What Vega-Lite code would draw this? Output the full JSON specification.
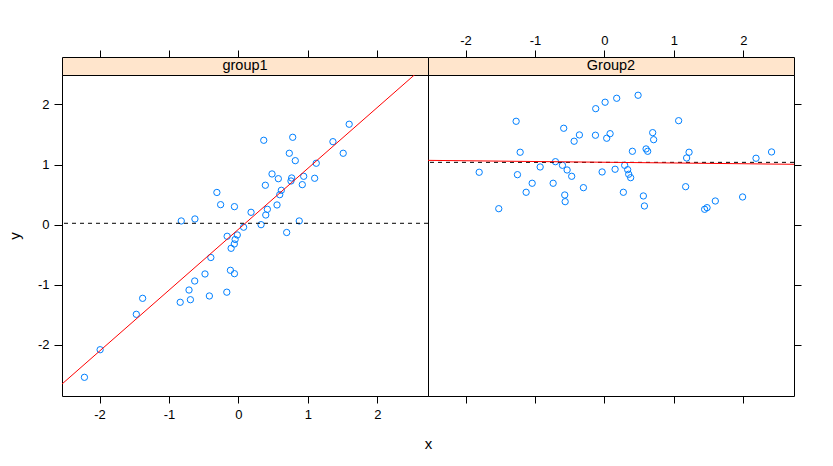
{
  "$schema": "https://vega.github.io/schema/vega-lite/v6.json",
  "background": "white",
  "padding": {"left": 6, "top": 33, "right": 5, "bottom": 5},
  "datasets": {
    "strips": [{"group": "group1"}, {"group": "Group2"}],
    "pts": [
      {"group":"group1","x":0.365,"y":1.404},{"group":"group1","x":0.782,"y":1.454},{"group":"group1","x":1.595,"y":1.671},{"group":"group1","x":1.361,"y":1.381},{"group":"group1","x":1.509,"y":1.188},
      {"group":"group1","x":0.733,"y":1.188},{"group":"group1","x":0.819,"y":1.065},{"group":"group1","x":1.121,"y":1.022},{"group":"group1","x":0.484,"y":0.844},{"group":"group1","x":0.575,"y":0.765},
      {"group":"group1","x":0.767,"y":0.777},{"group":"group1","x":0.757,"y":0.727},{"group":"group1","x":0.940,"y":0.805},{"group":"group1","x":1.098,"y":0.772},{"group":"group1","x":0.388,"y":0.656},
      {"group":"group1","x":0.920,"y":0.666},{"group":"group1","x":0.618,"y":0.572},{"group":"group1","x":0.595,"y":0.499},{"group":"group1","x":0.556,"y":0.328},{"group":"group1","x":0.417,"y":0.256},
      {"group":"group1","x":0.182,"y":0.206},{"group":"group1","x":0.394,"y":0.161},{"group":"group1","x":0.876,"y":0.062},{"group":"group1","x":0.326,"y":0.000},{"group":"group1","x":0.075,"y":-0.042},
      {"group":"group1","x":0.695,"y":-0.130},{"group":"group1","x":-0.310,"y":0.536},{"group":"group1","x":-0.256,"y":0.333},{"group":"group1","x":-0.057,"y":0.300},{"group":"group1","x":-0.823,"y":0.062},
      {"group":"group1","x":-0.626,"y":0.095},{"group":"group1","x":-0.162,"y":-0.193},{"group":"group1","x":-0.016,"y":-0.171},{"group":"group1","x":-0.047,"y":-0.246},{"group":"group1","x":-0.059,"y":-0.321},
      {"group":"group1","x":-0.105,"y":-0.393},{"group":"group1","x":-0.397,"y":-0.546},{"group":"group1","x":-0.481,"y":-0.820},{"group":"group1","x":-0.115,"y":-0.759},{"group":"group1","x":-0.057,"y":-0.815},
      {"group":"group1","x":-0.629,"y":-0.937},{"group":"group1","x":-0.711,"y":-1.087},{"group":"group1","x":-0.838,"y":-1.291},{"group":"group1","x":-0.691,"y":-1.248},{"group":"group1","x":-0.418,"y":-1.186},
      {"group":"group1","x":-0.167,"y":-1.123},{"group":"group1","x":-1.379,"y":-1.225},{"group":"group1","x":-1.470,"y":-1.491},{"group":"group1","x":-1.991,"y":-2.080},{"group":"group1","x":-2.217,"y":-2.539},
      {"group":"Group2","x":-1.271,"y":1.720},{"group":"Group2","x":-0.586,"y":1.604},{"group":"Group2","x":-0.125,"y":1.930},{"group":"Group2","x":0.010,"y":2.037},{"group":"Group2","x":0.177,"y":2.103},
      {"group":"Group2","x":-0.360,"y":1.493},{"group":"Group2","x":-0.436,"y":1.388},{"group":"Group2","x":-0.129,"y":1.488},{"group":"Group2","x":0.033,"y":1.438},{"group":"Group2","x":0.082,"y":1.514},
      {"group":"Group2","x":-1.213,"y":1.205},{"group":"Group2","x":-0.705,"y":1.048},{"group":"Group2","x":-0.604,"y":0.988},{"group":"Group2","x":-0.537,"y":0.910},{"group":"Group2","x":-0.471,"y":0.805},
      {"group":"Group2","x":-0.925,"y":0.960},{"group":"Group2","x":-1.803,"y":0.872},{"group":"Group2","x":-1.252,"y":0.832},{"group":"Group2","x":-1.040,"y":0.689},{"group":"Group2","x":-0.738,"y":0.689},
      {"group":"Group2","x":-1.127,"y":0.539},{"group":"Group2","x":-0.571,"y":0.494},{"group":"Group2","x":-0.565,"y":0.383},{"group":"Group2","x":-0.302,"y":0.616},{"group":"Group2","x":-1.521,"y":0.266},
      {"group":"Group2","x":-0.033,"y":0.877},{"group":"Group2","x":0.154,"y":0.922},{"group":"Group2","x":0.485,"y":2.153},{"group":"Group2","x":1.069,"y":1.730},{"group":"Group2","x":0.695,"y":1.531},
      {"group":"Group2","x":0.709,"y":1.414},{"group":"Group2","x":0.403,"y":1.221},{"group":"Group2","x":0.600,"y":1.260},{"group":"Group2","x":0.623,"y":1.221},{"group":"Group2","x":1.219,"y":1.205},
      {"group":"Group2","x":1.184,"y":1.110},{"group":"Group2","x":2.183,"y":1.105},{"group":"Group2","x":2.407,"y":1.210},{"group":"Group2","x":0.292,"y":0.988},{"group":"Group2","x":0.335,"y":0.915},
      {"group":"Group2","x":0.350,"y":0.839},{"group":"Group2","x":0.378,"y":0.782},{"group":"Group2","x":1.170,"y":0.632},{"group":"Group2","x":0.273,"y":0.539},{"group":"Group2","x":0.561,"y":0.478},
      {"group":"Group2","x":0.576,"y":0.311},{"group":"Group2","x":1.990,"y":0.461},{"group":"Group2","x":1.597,"y":0.394},{"group":"Group2","x":1.478,"y":0.283},{"group":"Group2","x":1.443,"y":0.256}
    ]
  },
  "columns": 2,
  "spacing": 0,
  "bounds": "flush",
  "concat": [
    {
      "width": 366, "height": 18,
      "data": {"name": "strips"},
      "transform": [{"filter": "datum.group === 'group1'"}],
      "view": {"fill": "#ffe5cc", "stroke": "black"},
      "layer": [
        {"mark": {"type": "text", "fontSize": 14.5, "font": "Liberation Sans", "color": "black", "baseline": "middle", "align": "center"},
         "encoding": {"text": {"field": "group", "type": "nominal"}}},
        {"mark": {"type": "rule", "opacity": 0},
         "encoding": {"x": {"datum": 0, "type": "quantitative",
           "scale": {"domain": [-2.54, 2.73], "nice": false, "zero": false},
           "axis": {"orient": "top", "values": [-2, -1, 0, 1, 2], "labels": false, "title": null, "tickSize": 7}}}}
      ]
    },
    {
      "width": 366, "height": 18,
      "data": {"name": "strips"},
      "transform": [{"filter": "datum.group === 'Group2'"}],
      "view": {"fill": "#ffe5cc", "stroke": "black"},
      "layer": [
        {"mark": {"type": "text", "fontSize": 14.5, "font": "Liberation Sans", "color": "black", "baseline": "middle", "align": "center"},
         "encoding": {"text": {"field": "group", "type": "nominal"}}},
        {"mark": {"type": "rule", "opacity": 0},
         "encoding": {"x": {"datum": 0, "type": "quantitative",
           "scale": {"domain": [-2.54, 2.73], "nice": false, "zero": false},
           "axis": {"orient": "top", "values": [-2, -1, 0, 1, 2], "labels": true, "title": null, "tickSize": 7, "labelPadding": 3}}}}
      ]
    },
    {
      "width": 366, "height": 321,
      "data": {"name": "pts"},
      "transform": [{"filter": "datum.group === 'group1'"}],
      "layer": [
        {"mark": {"type": "point", "shape": "circle", "filled": false, "color": "#0080ff", "size": 40, "strokeWidth": 1, "opacity": 1},
         "encoding": {
           "x": {"field": "x", "type": "quantitative", "scale": {"domain": [-2.54, 2.73], "nice": false, "zero": false},
             "axis": {"orient": "bottom", "values": [-2, -1, 0, 1, 2], "title": "x", "titleX": 366, "tickSize": 7, "labelPadding": 5, "titlePadding": 15}},
           "y": {"field": "y", "type": "quantitative", "scale": {"domain": [-2.85, 2.49], "nice": false, "zero": false},
             "axis": {"orient": "left", "values": [-2, -1, 0, 1, 2], "title": "y", "tickSize": 8, "labelPadding": 5, "titlePadding": 15}}
         }},
        {"mark": {"type": "rule", "strokeDash": [4, 4], "color": "black", "strokeWidth": 1},
         "encoding": {"y": {"aggregate": "mean", "field": "y", "type": "quantitative"}}},
        {"transform": [{"regression": "y", "on": "x", "extent": [-2.54, 2.73]}],
         "mark": {"type": "line", "color": "red", "strokeWidth": 1, "clip": true},
         "encoding": {"x": {"field": "x", "type": "quantitative"}, "y": {"field": "y", "type": "quantitative"}}}
      ]
    },
    {
      "width": 366, "height": 321,
      "data": {"name": "pts"},
      "transform": [{"filter": "datum.group === 'Group2'"}],
      "layer": [
        {"mark": {"type": "point", "shape": "circle", "filled": false, "color": "#0080ff", "size": 40, "strokeWidth": 1, "opacity": 1},
         "encoding": {
           "x": {"field": "x", "type": "quantitative", "scale": {"domain": [-2.54, 2.73], "nice": false, "zero": false},
             "axis": {"orient": "bottom", "values": [-2, -1, 0, 1, 2], "labels": false, "title": null, "tickSize": 7}},
           "y": {"field": "y", "type": "quantitative", "scale": {"domain": [-2.85, 2.49], "nice": false, "zero": false},
             "axis": {"orient": "right", "values": [-2, -1, 0, 1, 2], "labels": false, "title": null, "tickSize": 7}}
         }},
        {"mark": {"type": "rule", "strokeDash": [4, 4], "color": "black", "strokeWidth": 1},
         "encoding": {"y": {"aggregate": "mean", "field": "y", "type": "quantitative"}}},
        {"transform": [{"regression": "y", "on": "x", "extent": [-2.54, 2.73]}],
         "mark": {"type": "line", "color": "red", "strokeWidth": 1, "clip": true},
         "encoding": {"x": {"field": "x", "type": "quantitative"}, "y": {"field": "y", "type": "quantitative"}}}
      ]
    }
  ],
  "config": {
    "view": {"stroke": "black", "strokeWidth": 1},
    "axis": {
      "labelFont": "Liberation Sans", "titleFont": "Liberation Sans",
      "labelFontSize": 13, "titleFontSize": 15, "titleFontWeight": "normal",
      "labelColor": "black", "titleColor": "black", "tickColor": "black",
      "grid": false, "domain": false, "labelFlush": false,
      "labelExpr": "datum.value + ''"
    }
  }
}
